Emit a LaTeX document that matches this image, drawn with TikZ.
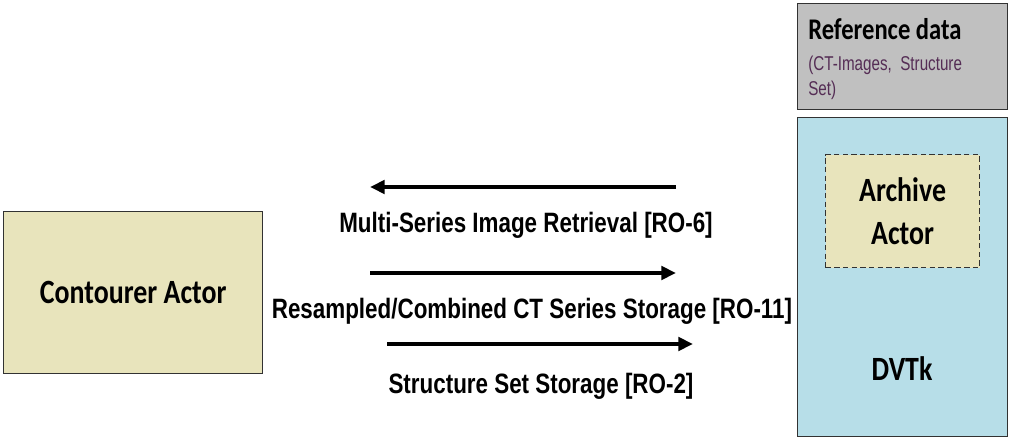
\documentclass[tikz,border=0pt]{standalone}
\usepackage{fontspec}
\usepackage{xcolor}
\usepackage{tikz}
\usetikzlibrary{positioning, arrows.meta}

\newfontfamily\boxfont[FakeStretch=0.82]{Carlito}
\newfontfamily\labelfont[FakeStretch=0.8]{Liberation Sans}
\newfontfamily\subfont[FakeStretch=0.76]{Liberation Sans}

\definecolor{actorfill}{RGB}{232,228,188}
\definecolor{dvtkfill}{RGB}{183,222,232}
\definecolor{reffill}{RGB}{192,192,192}
\definecolor{boxline}{RGB}{50,50,50}
\definecolor{subtext}{RGB}{85,45,85}

\begin{document}
\begin{tikzpicture}[x=0.75pt, y=-0.75pt,
    actor/.style={draw=boxline, line width=1.1pt, fill=actorfill,
                  anchor=north west, inner sep=0pt, align=center,
                  font=\boxfont\bfseries\fontsize{25.5}{34}\selectfont},
    group/.style={draw=boxline, line width=1.1pt, anchor=north west,
                  inner sep=0pt},
    msg/.style={-{Triangle[length=11pt, width=10pt]}, line width=3pt},
    msglabel/.style={anchor=base, inner sep=0pt,
                     font=\labelfont\bfseries\fontsize{21}{25}\selectfont}
  ]
    \useasboundingbox (0,0) rectangle (1010,441);
    % boxes
    \node[actor, minimum width=194.25pt, minimum height=121.5pt]
      (cont) at (3,211) {Contourer Actor};
    \node[group, fill=reffill, minimum width=157.5pt, minimum height=79.5pt]
      (ref) at (797,3) {};
    \node[anchor=base west, inner sep=0pt,
          font=\boxfont\bfseries\fontsize{22.5}{26}\selectfont]
      (reftitle) at (808,40) {Reference data};
    \node[anchor=base west, inner sep=0pt, align=left, text=subtext,
          font=\subfont\fontsize{15}{18.75}\selectfont]
      (refsub) at (808,96) {(CT-Images,~ Structure\\Set)};
    \node[group, fill=dvtkfill, minimum width=157.5pt, minimum height=239.25pt]
      (dvtk) at (797,117) {};
    \node[actor, dash pattern=on 4pt off 2.5pt, line width=0.9pt,
          minimum width=115.5pt, minimum height=84.75pt]
      (arch) at (825,154) {Archive\\[-2pt]Actor};
    \node[font=\boxfont\bfseries\fontsize{25.5}{34}\selectfont]
      (dvtklbl) at (902,369) {DVTk};
    % transactions
    \coordinate (ro6a)  at (676,187);
    \coordinate (ro6b)  at (370,187);
    \coordinate (ro11a) at (370,273);
    \coordinate (ro11b) at (676,273);
    \coordinate (ro2a)  at (387,344);
    \coordinate (ro2b)  at (693,344);
    \draw[msg] (ro6a)  -- (ro6b);
    \draw[msg] (ro11a) -- (ro11b);
    \draw[msg] (ro2a)  -- (ro2b);
    \node[msglabel] (ro6)  at (526,233) {Multi-Series Image Retrieval [RO-6]};
    \node[msglabel] (ro11) at (532,319) {Resampled/Combined CT Series Storage [RO-11]};
    \node[msglabel] (ro2)  at (541,393) {Structure Set Storage [RO-2]};
\end{tikzpicture}
\end{document}
